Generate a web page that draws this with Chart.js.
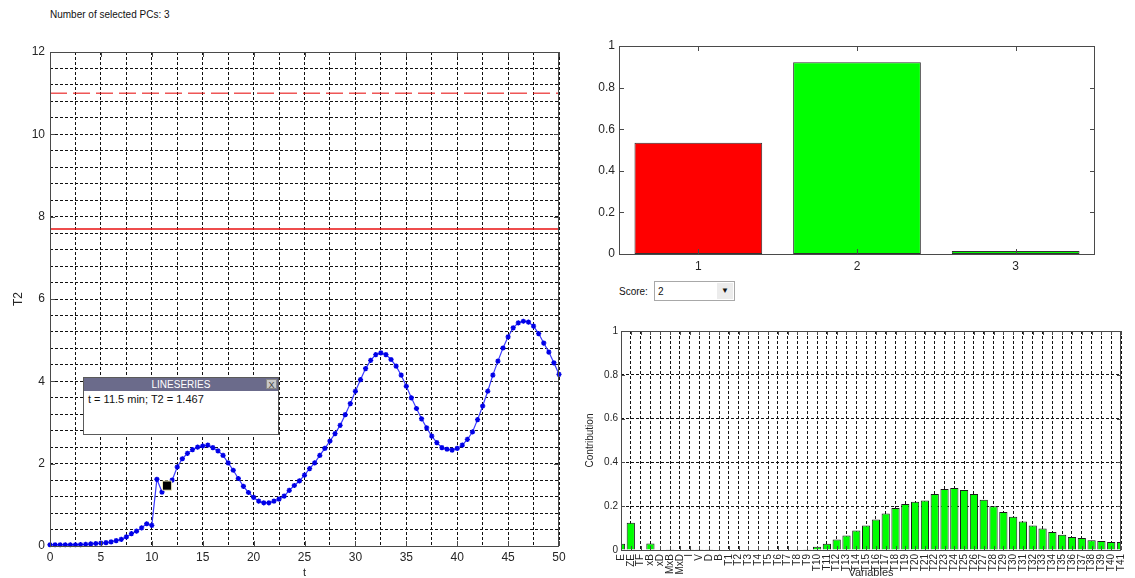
<!DOCTYPE html>
<html>
<head>
<meta charset="utf-8">
<script src="https://cdn.jsdelivr.net/npm/chart.js@4.4.1/dist/chart.umd.min.js"></script>
<style>
  body { margin: 0; background: #fff; font-family: 'Liberation Sans', Arial, sans-serif; }
  #wrap { position: relative; width: 1135px; height: 578px; overflow: hidden; background: #fff; }
  canvas { position: absolute; }
  #npc { position: absolute; left: 50px; top: 9px; font-size: 10px; color: #111; }
  #dtip { position: absolute; left: 83px; top: 377px; width: 196px; height: 58px; background: #fff;
          border: 1px solid #5a5a5a; box-sizing: border-box; }
  #dtip .hd { position: relative; height: 13px; background: #6b6b8b; color: #fff; font-size: 10px;
              line-height: 13px; text-align: center; }
  #dtip .cl { position: absolute; right: 1px; top: 1px; width: 11px; height: 10px; background: #c8c8c8;
              color: #444; font-size: 9px; line-height: 10px; border: 1px solid #888; box-sizing: border-box; }
  #dtip .bd { font-size: 11px; color: #111; padding: 2px 4px; }
  #score { position: absolute; left: 619px; top: 281px; font-size: 10px; color: #111; }
  #score .lb { position: absolute; left: 0; top: 5px; }
  #score .box { position: absolute; left: 35px; top: 0; width: 81px; height: 20px; border: 1px solid #a8a8a8;
                box-sizing: border-box; background: #fff; }
  #score .val { position: absolute; left: 3px; top: 4px; }
  #score .btn { position: absolute; right: 1px; top: 1px; width: 16px; height: 16px; background: #ececec;
                font-size: 8px; line-height: 16px; text-align: center; color: #111; }
</style>
</head>
<body>
<div id="wrap">
  <div id="npc"></div>
  <canvas id="t2Chart" width="580" height="578" style="left:0;top:0"></canvas>
  <canvas id="scoreChart" width="555" height="280" style="left:580px;top:0"></canvas>
  <canvas id="contribChart" width="555" height="278" style="left:580px;top:300px"></canvas>
  <div id="dtip"><div class="hd">LINESERIES<div class="cl">X</div></div><div class="bd"></div></div>
  <div id="score"><span class="lb">Score:</span><div class="box"><span class="val"></span><div class="btn">&#9660;</div></div></div>
</div>
<script>
// ---- data ----
const nSelectedPCs = 3;

const tValues = [0, 0.5, 1, 1.5, 2, 2.5, 3, 3.5, 4, 4.5, 5, 5.5, 6, 6.5, 7, 7.5, 8, 8.5, 9, 9.5,
  10, 10.5, 11, 11.5, 12, 12.5, 13, 13.5, 14, 14.5, 15, 15.5, 16, 16.5, 17, 17.5, 18, 18.5, 19, 19.5,
  20, 20.5, 21, 21.5, 22, 22.5, 23, 23.5, 24, 24.5, 25, 25.5, 26, 26.5, 27, 27.5, 28, 28.5, 29, 29.5,
  30, 30.5, 31, 31.5, 32, 32.5, 33, 33.5, 34, 34.5, 35, 35.5, 36, 36.5, 37, 37.5, 38, 38.5, 39, 39.5,
  40, 40.5, 41, 41.5, 42, 42.5, 43, 43.5, 44, 44.5, 45, 45.5, 46, 46.5, 47, 47.5, 48, 48.5, 49, 49.5, 50];

const t2Values = [0.03, 0.03, 0.03, 0.03, 0.03, 0.03, 0.035, 0.04, 0.05, 0.06,
  0.07, 0.08, 0.1, 0.13, 0.16, 0.22, 0.3, 0.36, 0.44, 0.54,
  0.5, 1.62, 1.31, 1.467, 1.6, 1.92, 2.12, 2.25, 2.34, 2.4,
  2.43, 2.45, 2.39, 2.31, 2.2, 2.02, 1.84, 1.64, 1.45, 1.3,
  1.18, 1.09, 1.05, 1.05, 1.09, 1.14, 1.21, 1.35, 1.47, 1.58,
  1.72, 1.88, 2.02, 2.2, 2.37, 2.55, 2.73, 2.93, 3.19, 3.46,
  3.76, 4.04, 4.31, 4.51, 4.65, 4.69, 4.65, 4.53, 4.37, 4.15,
  3.88, 3.6, 3.34, 3.09, 2.87, 2.67, 2.51, 2.39, 2.35, 2.33,
  2.37, 2.45, 2.59, 2.77, 3.07, 3.4, 3.76, 4.15, 4.49, 4.81,
  5.08, 5.3, 5.42, 5.46, 5.44, 5.34, 5.16, 4.93, 4.71, 4.45, 4.17];

const limit99 = 11.0;   // dashed control limit
const limit95 = 7.7;    // solid control limit

const selT = 11.5;
const selT2 = 1.467;

const scoreLabels = ['1', '2', '3'];
const scoreValues = [0.535, 0.922, 0.014];
const scoreColors = ['#ff0000', '#00ff00', '#00ff00'];
const selectedScore = 2;

const variableLabels = ['E', 'ZE', 'TF', 'xB', 'xD', 'MxB', 'MxD', 'I', 'V', 'D', 'B',
  'T1', 'T2', 'T3', 'T4', 'T5', 'T6', 'T7', 'T8', 'T9', 'T10',
  'T11', 'T12', 'T13', 'T14', 'T15', 'T16', 'T17', 'T18', 'T19', 'T20',
  'T21', 'T22', 'T23', 'T24', 'T25', 'T26', 'T27', 'T28', 'T29', 'T30',
  'T31', 'T32', 'T33', 'T34', 'T35', 'T36', 'T37', 'T38', 'T39', 'T40', 'T41'];
const contribValues = [0.028, 0.125, 0, 0.03, 0, 0.003, 0, 0.003, 0.003, 0.003,
  0, 0, 0, 0, 0, 0, 0, 0, 0, 0.003,
  0.015, 0.029, 0.048, 0.066, 0.089, 0.112, 0.139, 0.167, 0.192, 0.21,
  0.22, 0.226, 0.256, 0.279, 0.283, 0.274, 0.256, 0.229, 0.2, 0.174,
  0.152, 0.13, 0.112, 0.098, 0.082, 0.07, 0.059, 0.055, 0.045, 0.041,
  0.036, 0.036];

// ---- html bits ----
document.getElementById('npc').textContent = 'Number of selected PCs: ' + nSelectedPCs;
document.querySelector('#dtip .bd').textContent = 't = ' + selT + ' min; T2 = ' + selT2;
document.querySelector('#score .val').textContent = selectedScore;

const FONT = "'Liberation Sans', Arial, sans-serif";
const AXIS = '#4a4a4a';

// box around the plot area plus inward tick marks
const framePlugin = {
  id: 'frame',
  afterDatasetsDraw(chart, args, opts) {
    const { ctx, chartArea: a, scales } = chart;
    const len = opts.tickLen || 5;
    const isStep = (v, every) => !every || Math.abs(v / every - Math.round(v / every)) < 1e-6;
    ctx.save();
    ctx.strokeStyle = opts.color || AXIS;
    ctx.lineWidth = 1;
    ctx.strokeRect(Math.round(a.left) + 0.5, Math.round(a.top) + 0.5,
      Math.round(a.right - a.left) - 1, Math.round(a.bottom - a.top));
    ctx.beginPath();
    scales.y.ticks.forEach((tk, i) => {
      if (!isStep(tk.value, opts.yEvery)) return;
      const py = Math.round(scales.y.getPixelForTick(i)) + 0.5;
      ctx.moveTo(a.left, py); ctx.lineTo(a.left + len, py);
      ctx.moveTo(a.right, py); ctx.lineTo(a.right - len, py);
    });
    scales.x.ticks.forEach((tk, i) => {
      if (!isStep(tk.value, opts.xEvery)) return;
      const px = Math.round(scales.x.getPixelForTick(i)) + 0.5;
      ctx.moveTo(px, a.bottom); ctx.lineTo(px, a.bottom - len);
      ctx.moveTo(px, a.top); ctx.lineTo(px, a.top + len);
    });
    ctx.stroke();
    ctx.restore();
  }
};

const isMultiple = (v, m) => Math.abs(v / m - Math.round(v / m)) < 1e-6;
const tidy = v => String(Math.round(v * 10) / 10);

// ---- T2 monitoring chart ----
new Chart(document.getElementById('t2Chart'), {
  type: 'line',
  data: {
    datasets: [
      {
        data: [{ x: selT, y: selT2 }],
        showLine: false,
        pointStyle: 'rect',
        pointRadius: 6.5,
        backgroundColor: '#000',
        borderColor: '#f3eec0',
        borderWidth: 1,
        order: 0
      },
      {
        data: tValues.map((t, i) => ({ x: t, y: t2Values[i] })),
        borderColor: '#3b3bff',
        borderWidth: 1.2,
        pointStyle: 'star',
        pointRadius: 2.6,
        pointBorderColor: '#0000e8',
        pointBackgroundColor: '#0000e8',
        pointBorderWidth: 1.4,
        tension: 0,
        clip: false,
        order: 1
      },
      {
        data: [{ x: tValues[0], y: limit99 }, { x: tValues[tValues.length - 1], y: limit99 }],
        borderColor: '#e60000',
        borderWidth: 1,
        borderDash: [17, 6],
        pointRadius: 0,
        order: 2
      },
      {
        data: [{ x: tValues[0], y: limit95 }, { x: tValues[tValues.length - 1], y: limit95 }],
        borderColor: '#e81010',
        borderWidth: 1.3,
        pointRadius: 0,
        order: 2
      }
    ]
  },
  options: {
    responsive: false,
    animation: false,
    layout: { padding: { top: 52, right: 21, left: 0, bottom: 0 } },
    plugins: {
      legend: { display: false },
      tooltip: { enabled: false },
      frame: { xEvery: 5, yEvery: 2, tickLen: 5 }
    },
    scales: {
      x: {
        type: 'linear', min: 0, max: 50,
        afterFit: s => { s.height = 32; },
        ticks: {
          stepSize: 2.5, autoSkip: false, maxRotation: 0, padding: 4,
          color: '#262626', font: { family: FONT, size: 12 },
          callback: v => isMultiple(v, 5) ? String(v) : ''
        },
        grid: { color: '#111', lineWidth: 1, drawTicks: false },
        border: { display: false, dash: [3, 2] },
        title: { display: true, text: 't', color: '#262626', font: { family: FONT, size: 11, lineHeight: 1 }, padding: 0 }
      },
      y: {
        type: 'linear', min: 0, max: 12,
        afterFit: s => { s.width = 50; },
        ticks: {
          stepSize: 0.4, autoSkip: false, padding: 5,
          color: '#262626', font: { family: FONT, size: 12 },
          callback: v => isMultiple(v, 2) ? String(Math.round(v)) : ''
        },
        grid: { color: '#111', lineWidth: 1, drawTicks: false },
        border: { display: false, dash: [3, 2] },
        title: { display: true, text: 'T2', color: '#262626', font: { family: FONT, size: 12, lineHeight: 1.2 }, padding: { top: 11, bottom: 0 } }
      }
    }
  },
  plugins: [framePlugin]
});

// ---- score bar chart ----
new Chart(document.getElementById('scoreChart'), {
  type: 'bar',
  data: {
    labels: scoreLabels,
    datasets: [{
      data: scoreValues,
      backgroundColor: scoreColors,
      borderColor: '#333',
      borderWidth: 1,
      borderSkipped: false,
      barPercentage: 0.805,
      categoryPercentage: 1.0
    }]
  },
  options: {
    responsive: false,
    animation: false,
    layout: { padding: { top: 46, right: 40, left: 0, bottom: 0 } },
    plugins: {
      legend: { display: false },
      tooltip: { enabled: false },
      frame: { yEvery: 0.2, tickLen: 5 }
    },
    scales: {
      x: {
        afterFit: s => { s.height = 26; },
        ticks: { padding: 5, color: '#262626', font: { family: FONT, size: 12 } },
        grid: { display: false, drawTicks: false },
        border: { display: false }
      },
      y: {
        min: 0, max: 1,
        afterFit: s => { s.width = 39; },
        ticks: { stepSize: 0.2, padding: 4, color: '#262626', font: { family: FONT, size: 12 }, callback: tidy },
        grid: { display: false, drawTicks: false },
        border: { display: false }
      }
    }
  },
  plugins: [framePlugin]
});

// ---- variable contribution chart ----
new Chart(document.getElementById('contribChart'), {
  type: 'bar',
  data: {
    labels: variableLabels,
    datasets: [{
      data: contribValues,
      backgroundColor: '#00ff00',
      borderColor: '#1a1a1a',
      borderWidth: 1,
      borderSkipped: 'start',
      barPercentage: 0.84,
      categoryPercentage: 1.0
    }]
  },
  options: {
    responsive: false,
    animation: false,
    layout: { padding: { top: 31, right: 7, left: 0, bottom: 0 } },
    plugins: {
      legend: { display: false },
      tooltip: { enabled: false },
      frame: { yEvery: 0.2, tickLen: 4 }
    },
    scales: {
      x: {
        offset: false,
        afterFit: s => { s.height = 28; },
        ticks: {
          autoSkip: false, minRotation: 90, maxRotation: 90, padding: 4,
          color: '#262626', font: { family: FONT, size: 10, lineHeight: 1 }
        },
        grid: { offset: false, color: '#111', drawTicks: false },
        border: { display: false, dash: [3, 2] },
        title: { display: true, text: 'Variables', color: '#262626', font: { family: FONT, size: 11, lineHeight: 1 }, padding: 0 }
      },
      y: {
        min: 0, max: 1,
        afterFit: s => { s.width = 41; },
        ticks: { stepSize: 0.2, padding: 3, color: '#262626', font: { family: FONT, size: 10 }, callback: tidy },
        grid: { color: '#111', drawTicks: false },
        border: { display: false, dash: [3, 2] },
        title: { display: true, text: 'Contribution', color: '#262626', font: { family: FONT, size: 10, lineHeight: 1 }, padding: { top: 5, bottom: 0 } }
      }
    }
  },
  plugins: [framePlugin]
});
</script>
</body>
</html>
